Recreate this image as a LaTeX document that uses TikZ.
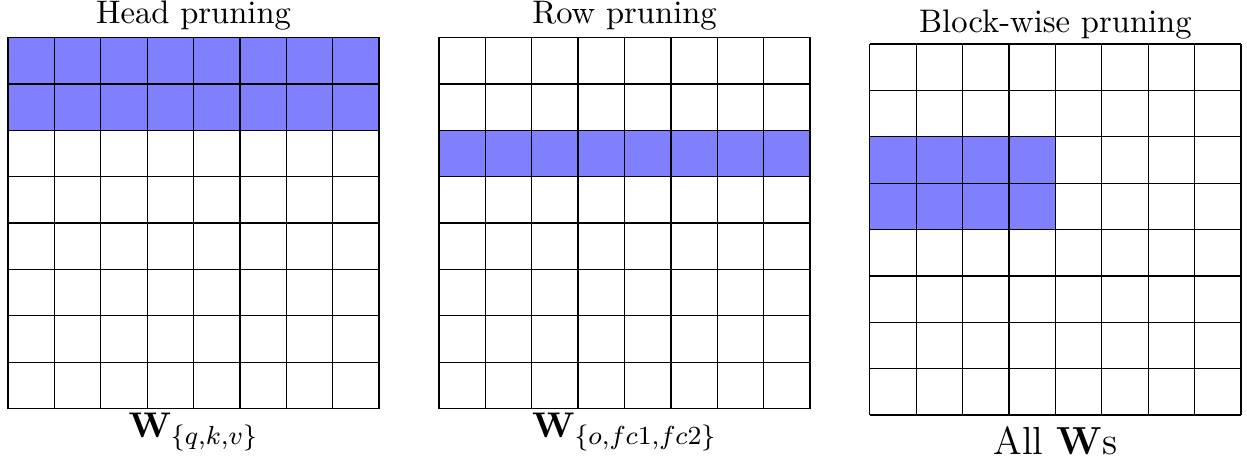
\documentclass[tikz,border=0pt]{standalone}
\usepackage{amsmath}
\tikzset{cella/.style={fill=blue!50}}
\begin{document}
\begin{tikzpicture}
        \useasboundingbox (0,0) rectangle (13.44,4.968);
        %griglia head pruning
        \begin{scope}[shift={(0.086,0.564)}]
        \fill[cella](0,3)rectangle(4,4);
        \draw[step=0.5](0,0)grid(4,4);
        \end{scope}
        %griglia row pruning
        \begin{scope}[shift={(4.731,0.564)}]
        \fill[cella](0,2.5)rectangle(4,3);
        \draw[step=0.5](0,0)grid(4,4);
        \end{scope}
        %griglia block-wise pruning
        \begin{scope}[shift={(9.375,0.494)}]
        \fill[cella](0,2)rectangle(2,3);
        \draw[step=0.5](0,0)grid(4,4);
        \end{scope}
        %titoli
        \node (headtit) at (2.086,4.714)[anchor=base]{Head pruning};
        \node (rowtit) at (6.731,4.714)[anchor=base]{Row pruning};
        \node (blocktit) at (11.375,4.615)[anchor=base]{Block-wise pruning};
        %etichette sotto
        \node (wqkv) at (2.086,0.255)[anchor=base,font=\fontsize{10.95}{13.6}\selectfont]{$\mathbf{W}_{\{q,k,v\}}$};
        \node (wofc) at (6.731,0.255)[anchor=base,font=\fontsize{10.95}{13.6}\selectfont]{$\mathbf{W}_{\{o,fc1,fc2\}}$};
        \node (wall) at (11.375,0.065)[anchor=base]{\large All $\mathbf{W}$s};
    \end{tikzpicture}
\end{document}
